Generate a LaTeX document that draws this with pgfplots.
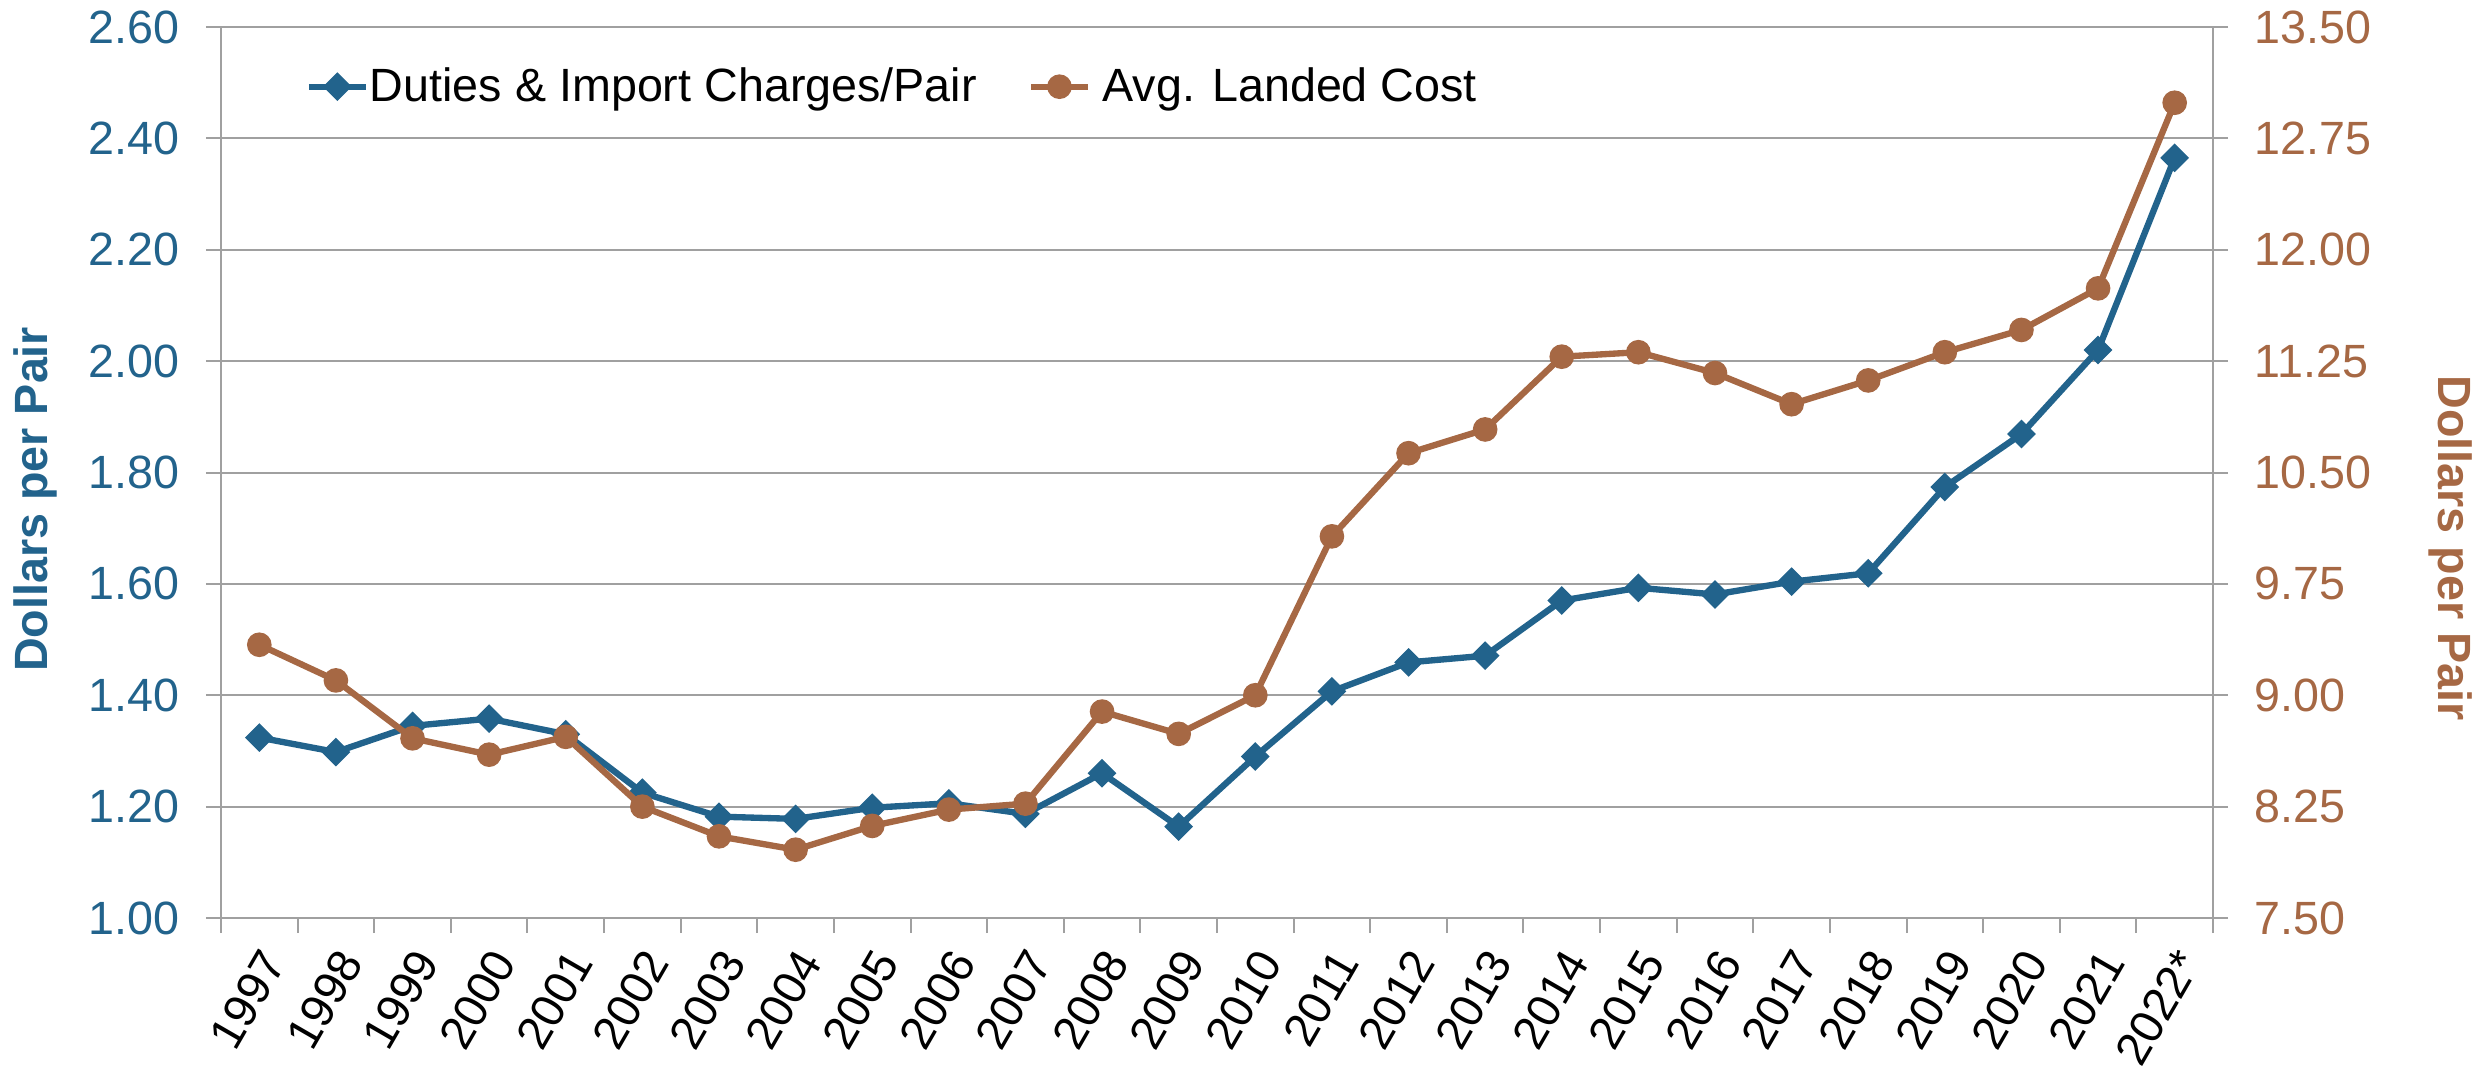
\documentclass[border=0pt]{standalone}
\usepackage{fontspec}
\setmainfont{Liberation Sans}
\usepackage{pgfplots}
\usepackage{pgfplotstable}
\pgfplotsset{compat=1.18}

\definecolor{dutyblue}{RGB}{34,99,140}
\definecolor{costbrown}{RGB}{166,104,68}
\definecolor{gridgray}{RGB}{160,160,160}

% idx: 0 = 1997 ... 25 = 2022*
\pgfplotstableread{
idx duty cost
0 1.324 9.34
1 1.298 9.10
2 1.345 8.71
3 1.358 8.60
4 1.330 8.72
5 1.225 8.25
6 1.182 8.05
7 1.178 7.96
8 1.198 8.12
9 1.206 8.23
10 1.187 8.27
11 1.260 8.89
12 1.164 8.74
13 1.290 9.00
14 1.407 10.07
15 1.459 10.63
16 1.471 10.79
17 1.570 11.28
18 1.593 11.31
19 1.581 11.17
20 1.604 10.96
21 1.619 11.12
22 1.774 11.31
23 1.869 11.46
24 2.020 11.74
25 2.365 12.99
}\shoedata

\begin{document}
\begin{tikzpicture}
\useasboundingbox (-66.3pt,-48.9pt) rectangle (678.6pt,275.4pt);

\pgfplotsset{
  base/.style={
    scale only axis,
    width=597.6pt,
    height=267.3pt,
    xmin=-0.5, xmax=25.5,
    font=\fontsize{14}{16}\selectfont,
    axis line style={gridgray, line width=0.6pt},
    tick align=outside,
    major tick length=4.5pt,
    minor tick length=4.5pt,
    tick style={gridgray, line width=0.6pt},
    /pgf/number format/assume math mode=true,
    yticklabel style={/pgf/number format/fixed,
      /pgf/number format/fixed zerofill,
      /pgf/number format/precision=2},
    clip=false,
  },
  dutyline/.style={dutyblue, line width=1.9pt, mark=square*, mark size=2.85pt,
    mark options={rotate=45, solid, line width=0.4pt}},
  costline/.style={costbrown, line width=1.9pt, mark=*, mark size=3.5pt,
    mark options={solid, line width=0.4pt}},
}

\begin{axis}[
  base,
  ymin=1, ymax=2.6,
  ytick={1,1.2,1.4,1.6,1.8,2,2.2,2.4,2.6},
  ytick pos=left,
  xtick pos=bottom,
  ymajorgrids,
  grid style={gridgray, line width=0.6pt},
  yticklabel style={text=dutyblue, xshift=-4.5pt},
  xtick={0,...,25},
  xticklabels={1997,1998,1999,2000,2001,2002,2003,2004,2005,2006,2007,2008,2009,
    2010,2011,2012,2013,2014,2015,2016,2017,2018,2019,2020,2021,2022*},
  major x tick style={draw=none},
  minor xtick={-0.5,0.5,...,25.5},
  xticklabel style={rotate=60, anchor=east, text=black, xshift=0pt, yshift=-7pt},
  legend style={draw=none, fill=none, at={(0.0422,0.933)}, anchor=west,
    inner sep=0pt, font=\fontsize{14}{16}\selectfont,
    nodes={inner xsep=0.3pt},
    /tikz/every even column/.append style={column sep=15pt}},
  legend columns=2,
]
\addplot[dutyline] table[x=idx, y=duty] {\shoedata};
\addlegendentry{Duties \& Import Charges/Pair}
\addlegendimage{costline}
\addlegendentry{\hspace{3.1pt}Avg. Landed Cost}
\end{axis}

\begin{axis}[
  base,
  axis x line=none,
  axis y line*=right,
  ymin=7.5, ymax=13.5,
  ytick={7.5,8.25,9,9.75,10.5,11.25,12,12.75,13.5},
  yticklabel style={text=costbrown, xshift=4.5pt},
]
\addplot[costline] table[x=idx, y=cost] {\shoedata};
\end{axis}

\node[rotate=90, font=\bfseries\fontsize{14}{16}\selectfont, text=dutyblue]
  at (-55.8pt,125.6pt) {Dollars per Pair};
\node[rotate=-90, font=\bfseries\fontsize{14}{16}\selectfont, text=costbrown]
  at (669pt,111pt) {Dollars per Pair};
\end{tikzpicture}
\end{document}
